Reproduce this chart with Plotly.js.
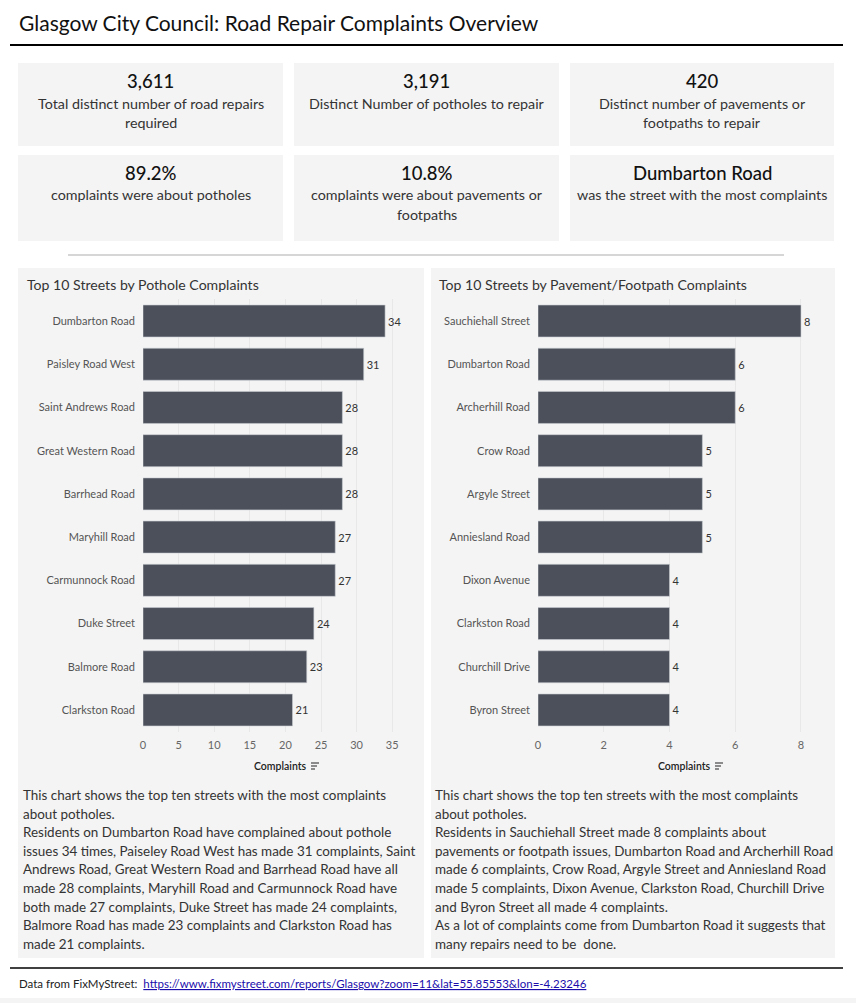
<!DOCTYPE html>
<html>
<head>
<meta charset="utf-8">
<script src="https://cdn.plot.ly/plotly-3.0.1.min.js"></script>
<style>html,body{margin:0;padding:0;background:#fff;}#chart{width:856px;height:1003px;}</style>
</head>
<body>
<div id="chart"></div>
<script>
// ---------- data ----------
const potholeStreets = ['Dumbarton Road','Paisley Road West','Saint Andrews Road','Great Western Road','Barrhead Road','Maryhill Road','Carmunnock Road','Duke Street','Balmore Road','Clarkston Road'];
const potholeComplaints = [34,31,28,28,28,27,27,24,23,21];
const pavementStreets = ['Sauchiehall Street','Dumbarton Road','Archerhill Road','Crow Road','Argyle Street','Anniesland Road','Dixon Avenue','Clarkston Road','Churchill Drive','Byron Street'];
const pavementComplaints = [8,6,6,5,5,5,4,4,4,4];
const potholeTicks = [0,5,10,15,20,25,30,35];
const pavementTicks = [0,2,4,6,8];
const kpiValues = ['3,611','3,191','420','89.2%','10.8%','Dumbarton Road'];
const kpiLabels = [
  ['Total distinct number of road repairs','required'],
  ['Distinct Number of potholes to repair'],
  ['Distinct number of pavements or','footpaths to repair'],
  ['complaints were about potholes'],
  ['complaints were about pavements or','footpaths'],
  ['was the street with the most complaints']
];
const pageTitle = 'Glasgow City Council: Road Repair Complaints Overview';
const leftTitle = 'Top 10 Streets by Pothole Complaints';
const rightTitle = 'Top 10 Streets by Pavement/Footpath Complaints';
const axisTitle = 'Complaints';
const leftNotes = [
  'This chart shows the top ten streets with the most complaints',
  'about potholes.',
  'Residents on Dumbarton Road have complained about pothole',
  'issues 34 times, Paiseley Road West has made 31 complaints, Saint',
  'Andrews Road, Great Western Road and Barrhead Road have all',
  'made 28 complaints, Maryhill Road and Carmunnock Road have',
  'both made 27 complaints, Duke Street has made 24 complaints,',
  'Balmore Road has made 23 complaints and Clarkston Road has',
  'made 21 complaints.'
];
const rightNotes = [
  'This chart shows the top ten streets with the most complaints',
  'about potholes.',
  'Residents in Sauchiehall Street made 8 complaints about',
  'pavements or footpath issues, Dumbarton Road and Archerhill Road',
  'made 6 complaints, Crow Road, Argyle Street and Anniesland Road',
  'made 5 complaints, Dixon Avenue, Clarkston Road, Churchill Drive',
  'and Byron Street all made 4 complaints.',
  'As a lot of complaints come from Dumbarton Road it suggests that',
  'many repairs need to be  done.'
];
const sourceLabel = 'Data from FixMyStreet:';
const sourceUrl = 'https://www.fixmystreet.com/reports/Glasgow?zoom=11&amp;lat=55.85553&amp;lon=-4.23246';

// ---------- layout helpers ----------
const W = 856, H = 1003;
const px = x => x / W;
const py = y => 1 - y / H;
const FONT = 'Lato, "Open Sans", sans-serif';
const BAR = '#4b505b';
const PANEL = '#f4f4f4';

const shapes = [];
const annotations = [];
function rect(x0,y0,x1,y1,color){
  shapes.push({type:'rect',xref:'paper',yref:'paper',x0:px(x0),x1:px(x1),y0:py(y1),y1:py(y0),
    fillcolor:color,line:{width:0},layer:'below'});
}
function hline(x0,x1,y,color,w){
  shapes.push({type:'line',xref:'paper',yref:'paper',x0:px(x0),x1:px(x1),y0:py(y),y1:py(y),
    line:{color:color,width:w}});
}
function text(t,x,y,opts){
  opts = opts||{};
  annotations.push({text:t,xref:'paper',yref:'paper',x:px(x),y:py(y),showarrow:false,
    xanchor:opts.xanchor||'left',yanchor:'middle',align:opts.xanchor==='center'?'center':'left',
    font:{family:opts.family||FONT,size:opts.size||12,color:opts.color||'#333',weight:opts.weight||400},
    borderpad:0});
}

// header
text(pageTitle,18,22,{size:21,color:'#111'});
hline(10,843,45,'#000',2);

// KPI boxes
const boxX = [[18,283],[294,559],[570,834]];
const boxY = [[63,146],[155,241]];
kpiValues.forEach((v,i)=>{
  const c = i%3, r = Math.floor(i/3);
  const [x0,x1] = boxX[c], [y0,y1] = boxY[r];
  rect(x0,y0,x1,y1,PANEL);
  const cx = (x0+x1)/2;
  text(v,cx,y0+18,{xanchor:'center',size:18.5,color:'#111',weight:500});
  kpiLabels[i].forEach((l,j)=>text(l,cx,y0+40+j*19.5,{xanchor:'center',size:14.3,color:'#333'}));
});
hline(68,784,255,'#c8c8c8',1.5);

// panels
rect(18,268,424,958,PANEL);
rect(431,268,835,958,PANEL);
text(leftTitle,26,284,{size:14.1,color:'#333'});
text(rightTitle,438,284,{size:14.1,color:'#333'});

// axis titles with sort icon
function axTitle(cx,y){
  text(axisTitle,cx,y,{xanchor:'center',size:10.5,color:'#222',weight:600});
  const ix = cx+31;
  [[8,-3],[6,0],[4,3]].forEach(([len,dy])=>{
    shapes.push({type:'line',xref:'paper',yref:'paper',x0:px(ix),x1:px(ix+len),y0:py(y+dy),y1:py(y+dy),
      line:{color:'#444',width:1.2}});
  });
}
axTitle(280,766);
axTitle(684,766);

// notes
leftNotes.forEach((l,i)=>text(l,22,795+i*18.6,{size:13.45,color:'#333'}));
rightNotes.forEach((l,i)=>text(l,434,795+i*18.6,{size:13.45,color:'#333'}));

// footer
hline(10,843,968,'#000',1.5);
text(sourceLabel+'  <span style="color:#1a0dab;text-decoration:underline">'+sourceUrl+'</span>',18,983,{size:11.5,color:'#222'});
rect(0,998,856,1003,PANEL);

// ---------- traces ----------
function barTrace(names,vals,xa,ya){
  return {type:'bar',orientation:'h',y:names,x:vals,xaxis:xa,yaxis:ya,
    marker:{color:BAR,line:{color:'#c9ccd2',width:0.6}},
    text:vals.map(String),textposition:'outside',cliponaxis:false,
    textfont:{family:FONT,size:11,color:'#333'},hoverinfo:'none'};
}
const data = [
  barTrace(potholeStreets,potholeComplaints,'x','y'),
  barTrace(pavementStreets,pavementComplaints,'x2','y2')
];

const yDomain = [py(731.6), py(299.4)];
function xAxis(domain,range,ticks,anchor){
  return {domain:domain,range:range,tickvals:ticks,ticktext:ticks.map(String),anchor:anchor,
    showgrid:true,gridcolor:'#e8e8e8',gridwidth:1,zeroline:false,showline:false,ticks:'',
    tickfont:{family:FONT,size:11,color:'#666'},ticklabelstandoff:5,fixedrange:true};
}
function yAxis(domain,cats,anchor){
  return {domain:domain,type:'category',categoryorder:'array',categoryarray:cats,
    range:[9.5,-0.5],anchor:anchor,showgrid:false,zeroline:false,showline:false,ticks:'',
    tickfont:{family:FONT,size:11,color:'#555'},ticklabelstandoff:7,fixedrange:true};
}

const layout = {
  width:W,height:H,margin:{l:0,r:0,t:0,b:0},
  paper_bgcolor:'#ffffff',plot_bgcolor:'rgba(0,0,0,0)',
  showlegend:false,bargap:0.26,
  xaxis:xAxis([px(143),px(410)],[0,37.5],potholeTicks,'y'),
  yaxis:yAxis(yDomain,potholeStreets,'x'),
  xaxis2:xAxis([px(538),px(824)],[0,8.7],pavementTicks,'y2'),
  yaxis2:yAxis(yDomain,pavementStreets,'x2'),
  shapes:shapes,annotations:annotations
};
Plotly.newPlot('chart',data,layout,{displayModeBar:false,staticPlot:true});
</script>
</body>
</html>
